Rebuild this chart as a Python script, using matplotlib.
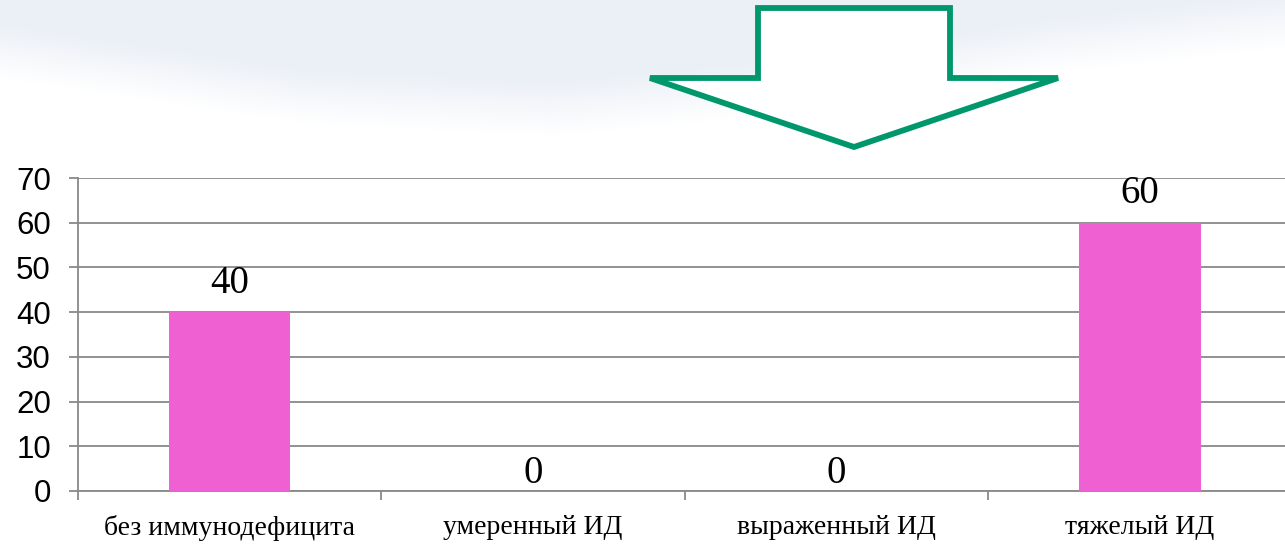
import matplotlib.pyplot as plt
import numpy as np
from matplotlib.patches import Polygon

categories = ['без иммунодефицита', 'умеренный ИД', 'выраженный ИД', 'тяжелый ИД']
values = [40, 0, 0, 60]
y_ticks = [0, 10, 20, 30, 40, 50, 60, 70]

W, H = 1285, 544
fig = plt.figure(figsize=(W / 100, H / 100), dpi=100)
fig.patch.set_facecolor('white')

# slide background: pale blue swoosh at the top
bg = fig.add_axes([0, 0, 1, 1], zorder=-10)
bg.set_axis_off()
xs = np.arange(W)
ys = np.arange(H)[:, None]
edge = np.interp(xs, [0, 300, 550, 800, 1050, 1285], [50, 95, 108, 85, 45, 20])
t = np.clip((edge[None, :] - ys) / 55.0 + 0.5, 0, 1)
top = np.array([235, 240, 247]) / 255.0
img = 1 - t[..., None] * (1 - top)
bg.imshow(img, extent=[0, W, H, 0], aspect='auto')
bg.set_xlim(0, W)
bg.set_ylim(H, 0)

# green outlined arrow pointing down
arrow_px = [(758, 8), (950, 8), (950, 78), (1058, 78), (854, 147), (650, 78), (758, 78)]
arrow = Polygon([(x / W, 1 - y / H) for x, y in arrow_px], closed=True,
                transform=fig.transFigure, facecolor='white', edgecolor='#00976C',
                linewidth=4.2, joinstyle='miter', zorder=5)
fig.patches.append(arrow)

ax = fig.add_axes([78 / W, 53 / H, 1213.6 / W, 313 / H])
ax.set_facecolor('none')
grid_c = '#898989'

x = np.arange(len(categories))
ax.bar(x, values, width=0.4, color='#EF61D2', zorder=3)
ax.set_xlim(-0.5, len(categories) - 0.5)
ax.set_ylim(0, 70)
ax.set_yticks(y_ticks)
ax.yaxis.grid(True, color=grid_c, linewidth=1.3, zorder=1)

for i, v in enumerate(values):
    off = 14 if v > 0 else 6
    ax.annotate(f'{v}', (x[i], v), xytext=(0, off), textcoords='offset points',
                ha='center', va='baseline', fontsize=28,
                family='Liberation Serif', color='black', zorder=4)

for s in ['top', 'right']:
    ax.spines[s].set_visible(False)
for s in ['left', 'bottom']:
    ax.spines[s].set_color(grid_c)
    ax.spines[s].set_linewidth(1.3)

ax.set_xticks(np.arange(len(categories) + 1) - 0.5, minor=False)
ax.set_xticklabels([])
ax.set_xticks(x, minor=True)
ax.set_xticklabels(categories, minor=True, fontsize=20, family='Liberation Serif')
ax.tick_params(axis='x', which='major', length=6.5, width=1.3, color=grid_c, direction='out')
ax.tick_params(axis='x', which='minor', length=0, pad=17)
ax.tick_params(axis='y', length=6.5, width=1.3, color=grid_c, pad=13)
for lab in ax.get_yticklabels():
    lab.set_fontsize(22.5)
    lab.set_family('Liberation Sans')

fig.savefig('out.png', dpi=100, facecolor='white')
